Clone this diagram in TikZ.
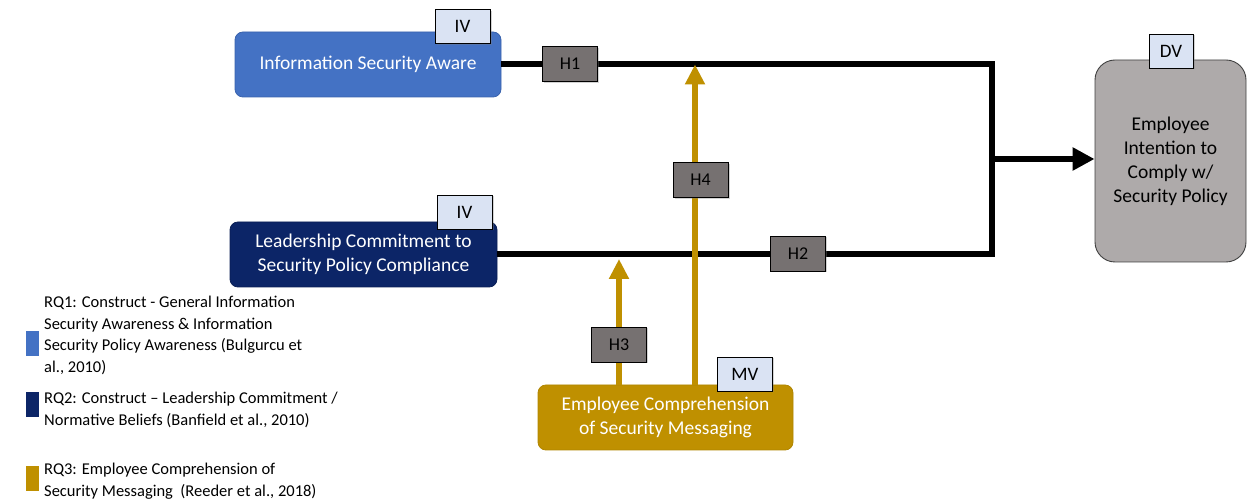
\documentclass[tikz,border=0pt]{standalone}
\usepackage{fontspec}
\setmainfont{Carlito}
\usetikzlibrary{shadows,arrows.meta}
\definecolor{blueA}{HTML}{4472C4}
\definecolor{blueAb}{HTML}{3A63AD}
\definecolor{navyA}{HTML}{0C2567}
\definecolor{navyAb}{HTML}{0A1F55}
\definecolor{goldA}{HTML}{BF9000}
\definecolor{goldAb}{HTML}{B08500}
\definecolor{tagfill}{HTML}{DAE3F3}
\definecolor{hfill}{HTML}{767171}
\definecolor{dvfill}{HTML}{AEAAAA}
\begin{document}
\begin{tikzpicture}[x=1pt,y=-1pt,
  construct/.style={draw, rounded corners=8pt, line width=0.8pt, text=white,
    align=center, inner sep=0pt, font=\fontsize{19.5}{24}\selectfont},
  tagbox/.style={draw=black, fill=tagfill, line width=0.9pt, minimum width=55pt,
    minimum height=34pt, inner sep=0pt, font=\fontsize{19}{22}\selectfont,
    drop shadow={shadow xshift=1.5pt, shadow yshift=-1.5pt, opacity=0.35}},
  hbox/.style={draw=black, fill=hfill, line width=0.9pt, minimum width=55pt,
    minimum height=35pt, inner sep=0pt, font=\fontsize{18}{22}\selectfont,
    drop shadow={shadow xshift=1.5pt, shadow yshift=-1.5pt, opacity=0.35}},
  blackline/.style={draw=black, line width=6pt},
  goldarrow/.style={draw=goldA, line width=6pt, -{Triangle[width=19pt,length=20pt]}},
  legtext/.style={anchor=base west, inner sep=0pt, font=\fontsize{16.5}{21.5}\selectfont},
  legsq/.style={draw=none, inner sep=0pt, minimum width=13pt, minimum height=25pt}
]
\useasboundingbox (0,0) rectangle (1248,502);

% constructs
\node[construct, fill=blueA, draw=blueAb, minimum width=266pt, minimum height=65pt] (isa) at (368,64.5) {Information Security Aware};
\node[construct, fill=navyA, draw=navyAb, minimum width=267pt, minimum height=65pt] (lead) at (363.5,254.5) {Leadership Commitment to\\Security Policy Compliance};
\node[construct, fill=goldA, draw=goldAb, minimum width=255pt, minimum height=65pt] (ecsm) at (665.5,417.5) {Employee Comprehension\\of Security Messaging};
\node[draw=black!75, fill=dvfill, rounded corners=20pt, line width=0.9pt, minimum width=151pt, minimum height=202pt,
  align=center, inner sep=0pt, font=\fontsize{19.5}{24}\selectfont] (dv) at (1170.5,161) {Employee\\Intention to\\Comply w/\\Security Policy};

% connectors
\coordinate (jt) at (992,64.5);
\coordinate (jb) at (992,254.5);
\coordinate (jm) at (992,159);
\coordinate (t4) at (695,64.5);
\coordinate (t3) at (619,259);
\draw[blackline] (isa.east) -- (jt) -- (jb) -- (lead.east);
\draw[blackline, -{Triangle[width=22pt,length=22pt]}] (jm) -- (dv.west |- jm);
\draw[goldarrow] (ecsm.north -| t3) -- (t3);
\draw[goldarrow] (ecsm.north -| t4) -- (t4);

% hypothesis labels
\node[hbox] (h1) at (570,64) {H1};
\node[hbox] (h2) at (798,253.5) {H2};
\node[hbox] (h3) at (619,344.5) {H3};
\node[hbox] (h4) at (700.5,180) {H4};

% variable tags
\node[tagbox] (iv1) at (462.5,26.5) {IV};
\node[tagbox] (iv2) at (464.5,212) {IV};
\node[tagbox] (mv) at (745,374) {MV};
\node[tagbox, minimum width=44pt] (dvt) at (1171,51) {DV};

% legend
\node[legsq, fill=blueA] (sq1) at (32.5,343.5) {};
\node[legsq, fill=navyA] (sq2) at (32.5,405) {};
\node[legsq, fill=goldA] (sq3) at (32.5,478.5) {};
\node[legtext] (l1a) at (44,308) {RQ1: Construct - General Information};
\node[legtext] (l1b) at (44,329.5) {Security Awareness \& Information};
\node[legtext] (l1c) at (44,351) {Security Policy Awareness (Bulgurcu et};
\node[legtext] (l1d) at (44,372.5) {al., 2010)};
\node[legtext] (l2a) at (44,404) {RQ2: Construct – Leadership Commitment /};
\node[legtext] (l2b) at (44,425.5) {Normative Beliefs (Banfield et al., 2010)};
\node[legtext] (l3a) at (44,475) {RQ3: Employee Comprehension of};
\node[legtext] (l3b) at (44,496.5) {Security Messaging~~(Reeder et al., 2018)};
\end{tikzpicture}
\end{document}
